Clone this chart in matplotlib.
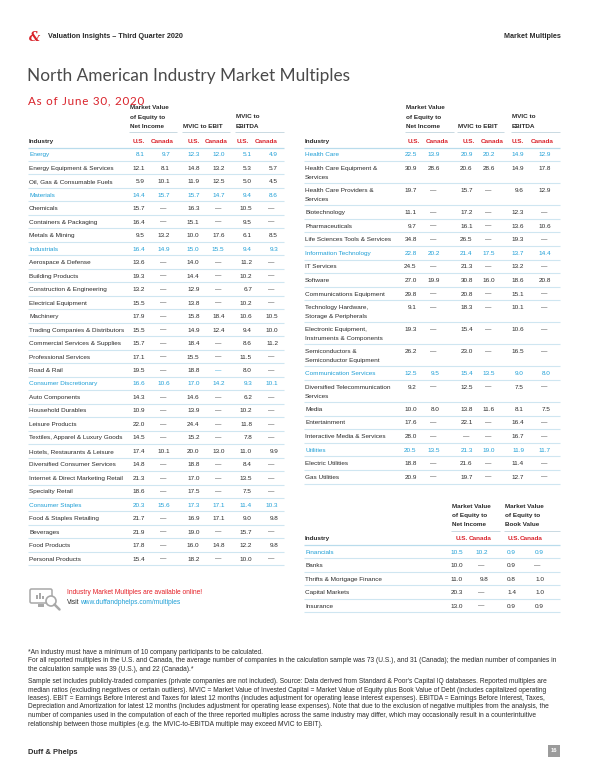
import matplotlib
matplotlib.use("Agg")
import matplotlib.pyplot as plt
from matplotlib.patches import Circle, FancyBboxPatch, Rectangle

plt.rcParams["font.family"] = ["Liberation Sans", "DejaVu Sans"]

BLUE = "#1f9fd6"
RED = "#d9232b"
DARK = "#2b2b2b"
RULE = "#cfe6f1"
FS = 4.55

# ---- left table: Energy .. Consumer Staples ----
left_industries = [
    "Energy", "Energy Equipment & Services", "Oil, Gas & Consumable Fuels",
    "Materials", "Chemicals", "Containers & Packaging", "Metals & Mining",
    "Industrials", "Aerospace & Defense", "Building Products",
    "Construction & Engineering", "Electrical Equipment", "Machinery",
    "Trading Companies & Distributors", "Commercial Services & Supplies",
    "Professional Services", "Road & Rail", "Consumer Discretionary",
    "Auto Components", "Household Durables", "Leisure Products",
    "Textiles, Apparel & Luxury Goods", "Hotels, Restaurants & Leisure",
    "Diversified Consumer Services", "Internet & Direct Marketing Retail",
    "Specialty Retail", "Consumer Staples", "Food & Staples Retailing",
    "Beverages", "Food Products", "Personal Products",
]
left_pe_us = [8.1, 12.1, 5.9, 14.4, 15.7, 16.4, 9.5, 16.4, 13.6, 19.3, 13.2, 15.5, 17.9, 15.5, 15.7, 17.1,
              19.5, 16.6, 14.3, 10.9, 22.0, 14.5, 17.4, 14.8, 21.3, 18.6, 20.3, 21.7, 21.9, 17.8, 15.4]
left_pe_ca = [9.7, 8.1, 10.1, 15.7, None, None, 13.2, 14.9, None, None, None, None, None, None, None, None,
              None, 10.6, None, None, None, None, 10.1, None, None, None, 15.6, None, None, None, None]
left_ebit_us = [12.3, 14.8, 11.9, 15.7, 16.3, 15.1, 10.0, 15.0, 14.0, 14.4, 12.9, 13.8, 15.8, 14.9, 18.4, 15.5,
                18.8, 17.0, 14.6, 13.9, 24.4, 15.2, 20.0, 18.8, 17.0, 17.5, 17.3, 16.9, 19.0, 16.0, 18.2]
left_ebit_ca = [12.0, 13.2, 12.5, 14.7, None, None, 17.6, 15.5, None, None, None, None, 18.4, 12.4, None, None,
                None, 14.2, None, None, None, None, 13.0, None, None, None, 17.1, 17.1, None, 14.8, None]
left_ebitda_us = [5.1, 5.3, 5.0, 9.4, 10.5, 9.5, 6.1, 9.4, 11.2, 10.2, 6.7, 10.2, 10.6, 9.4, 8.6, 11.5,
                  8.0, 9.3, 6.2, 10.2, 11.8, 7.8, 11.0, 8.4, 13.5, 7.5, 11.4, 9.0, 15.7, 12.2, 10.0]
left_ebitda_ca = [4.9, 5.7, 4.5, 8.6, None, None, 8.5, 9.3, None, None, None, None, 10.5, 10.0, 11.2, None,
                  None, 10.1, None, None, None, None, 9.9, None, None, None, 10.3, 9.8, None, 9.8, None]

# ---- right table: Health Care .. Utilities ----
right_industries = [
    "Health Care", "Health Care Equipment &\nServices", "Health Care Providers &\nServices",
    "Biotechnology", "Pharmaceuticals", "Life Sciences Tools & Services",
    "Information Technology", "IT Services", "Software", "Communications Equipment",
    "Technology Hardware,\nStorage & Peripherals", "Electronic Equipment,\nInstruments & Components",
    "Semiconductors &\nSemiconductor Equipment", "Communication Services",
    "Diversified Telecommunication\nServices", "Media", "Entertainment",
    "Interactive Media & Services", "Utilities", "Electric Utilities", "Gas Utilities",
]
right_pe_us = [22.5, 30.9, 19.7, 11.1, 9.7, 34.8, 22.8, 24.5, 27.0, 29.8, 9.1, 19.3, 26.2, 12.5, 9.2,
               10.0, 17.6, 28.0, 20.5, 18.8, 20.9]
right_pe_ca = [13.9, 28.6, None, None, None, None, 20.2, None, 19.9, None, None, None, None, 9.5, None,
               8.0, None, None, 13.5, None, None]
right_ebit_us = [20.9, 20.6, 15.7, 17.2, 16.1, 26.5, 21.4, 21.3, 30.8, 20.8, 18.3, 15.4, 23.0, 15.4, 12.5,
                 13.8, 22.1, None, 21.3, 21.6, 19.7]
right_ebit_ca = [20.2, 28.6, None, None, None, None, 17.5, None, 16.0, None, None, None, None, 13.5, None,
                 11.6, None, None, 19.0, None, None]
right_ebitda_us = [14.9, 14.9, 9.6, 12.3, 13.6, 19.3, 13.7, 13.2, 18.6, 15.1, 10.1, 10.6, 16.5, 9.0, 7.5,
                   8.1, 16.4, 16.7, 11.9, 11.4, 12.7]
right_ebitda_ca = [12.9, 17.8, 12.9, None, 10.6, None, 14.4, None, 20.8, None, None, None, None, 8.0, None,
                   7.5, None, None, 11.7, None, None]

# ---- financials ----
fin_industries = ["Financials", "Banks", "Thrifts & Mortgage Finance", "Capital Markets", "Insurance"]
fin_pe_us = [10.5, 10.0, 11.0, 20.3, 13.0]
fin_pe_ca = [10.2, None, 9.8, None, None]
fin_pb_us = [0.9, 0.9, 0.8, 1.4, 0.9]
fin_pb_ca = [0.9, None, 1.0, 1.0, 0.9]

sectors = {"Energy", "Materials", "Industrials", "Consumer Discretionary", "Consumer Staples",
           "Health Care", "Information Technology", "Communication Services", "Utilities", "Financials"}

footnotes = [
    "*An industry must have a minimum of 10 company participants to be calculated.",
    "For all reported multiples in the U.S. and Canada, the average number of companies in the calculation sample was 73 (U.S.), and 31 (Canada); the median number of companies in",
    "the calculation sample was 39 (U.S.), and 22 (Canada).*",
]
notes = [
    "Sample set includes publicly-traded companies (private companies are not included). Source: Data derived from Standard & Poor's Capital IQ databases. Reported multiples are",
    "median ratios (excluding negatives or certain outliers). MVIC = Market Value of Invested Capital = Market Value of Equity plus Book Value of Debt (includes capitalized operating",
    "leases). EBIT = Earnings Before Interest and Taxes for latest 12 months (includes adjustment for operating lease interest expenses). EBITDA = Earnings Before Interest, Taxes,",
    "Depreciation and Amortization for latest 12 months (includes adjustment for operating lease expenses). Note that due to the exclusion of negative multiples from the analysis, the",
    "number of companies used in the computation of each of the three reported multiples across the same industry may differ, which may occasionally result in a counterintuitive",
    "relationship between those multiples (e.g. the MVIC-to-EBITDA multiple may exceed MVIC to EBIT).",
]


def txt(ax, x, y, s, **kw):
    kw.setdefault("fontsize", FS)
    kw.setdefault("color", DARK)
    kw.setdefault("va", "center_baseline")
    ax.text(x, y, s, **kw)


def draw_header(ax, groups, units_x, y_ul, y_ind, x_ind):
    # groups: (x, lines, x_end); lines stacked upward from the underline
    for gx, lines, gend in groups:
        for k, ln in enumerate(reversed(lines)):
            txt(ax, gx, y_ul - 6.6 - k * 9.2, ln, fontweight="bold")
        ax.hlines(y_ul, gx - 1, gend, color="#c9d9e2", lw=0.7)
    txt(ax, x_ind, y_ind, "Industry", fontweight="bold")
    for ux_us, ux_ca in units_x:
        txt(ax, ux_us, y_ind, "U.S.", color=RED, fontweight="bold")
        txt(ax, ux_ca, y_ind, "Canada", color=RED, fontweight="bold")


def draw_rows(ax, names, cols, num_right, x_name, x_end, y_top, h1, h2):
    y = y_top
    ax.hlines(y, x_name - 1, x_end, color="#b9dcec", lw=0.9)
    for i, name in enumerate(names):
        lines = name.split("\n")
        color = BLUE if name in sectors else DARK
        for k, ln in enumerate(lines):
            txt(ax, x_name, y + 6.8 + k * 9, ln, color=color)
        for j, col in enumerate(cols):
            v = col[i]
            if v is None:
                c = BLUE if name == "Road & Rail" and j == 3 else color
                txt(ax, num_right[j] - 6.5, y + 6.8, "\u2014", ha="center", color=c)
            else:
                txt(ax, num_right[j], y + 6.8, f"{v:.1f}", ha="right", color=color)
        y += h1 if len(lines) == 1 else h2
        ax.hlines(y, x_name - 1, x_end, color=RULE, lw=0.8)


fig = plt.figure(figsize=(6.0, 7.76), dpi=100)
ax = fig.add_axes([0, 0, 1, 1])
ax.set_xlim(0, 600)
ax.set_ylim(776, 0)
ax.axis("off")

# page header
txt(ax, 29, 36, "&", fontsize=9, color=RED, fontstyle="italic", fontweight="bold",
    family=["DejaVu Serif"])
txt(ax, 48, 35, "Valuation Insights \u2013 Third Quarter 2020", fontsize=5.2, fontweight="bold")
txt(ax, 561, 35, "Market Multiples", fontsize=5.2, fontweight="bold", ha="right")
txt(ax, 27, 74, "North American Industry Market Multiples", fontsize=12.4, color="#4a4a4a",
    family=["Lato", "Liberation Sans"])
subtitle = "As of June 30, 2020"
txt(ax, 28, 100, "\u200a".join(subtitle), fontsize=8.4, color=RED,
    family=["Lato", "Liberation Sans", "DejaVu Sans"])

# left table
mv_lines = ["Market Value", "of Equity to", "Net Income"]
draw_header(ax, [(130, mv_lines, 177), (183, ["MVIC to EBIT"], 230), (236, ["MVIC to", "EBITDA"], 284)],
            [(132.7, 151), (187.7, 205), (236.7, 255)], 132.3, 141, 29)
draw_rows(ax, left_industries,
          [left_pe_us, left_pe_ca, left_ebit_us, left_ebit_ca, left_ebitda_us, left_ebitda_ca],
          [145, 170, 199.5, 224.5, 252, 278], 29, 284, 147.5, 13.48, 22)

# right table
draw_header(ax, [(406, mv_lines, 454), (458, ["MVIC to EBIT"], 504), (512, ["MVIC to", "EBITDA"], 560)],
            [(407.3, 426), (463, 481), (512, 530.7)], 132.3, 141, 305)
draw_rows(ax, right_industries,
          [right_pe_us, right_pe_ca, right_ebit_us, right_ebit_ca, right_ebitda_us, right_ebitda_ca],
          [416.7, 440, 472.7, 495, 524, 550.7], 305, 560, 147.5, 13.6, 22)

# financials table
draw_header(ax, [(452, mv_lines, 500), (505, ["Market Value", "of Equity to", "Book Value"], 560)],
            [(456, 468.5), (507.3, 520)], 531, 538, 305)
draw_rows(ax, fin_industries, [fin_pe_us, fin_pe_ca, fin_pb_us, fin_pb_ca],
          [463, 488, 516, 544], 305, 560, 545, 13.45, 22)

# online box with icon
ax.add_patch(FancyBboxPatch((30, 589), 22, 14, boxstyle="round,pad=0,rounding_size=1.5",
                            fill=False, ec="#a8a8a8", lw=1.1))
for bx, bh in zip([36, 39, 42], [4, 6, 3]):
    ax.add_patch(Rectangle((bx, 599 - bh), 1.6, bh, color="#a8a8a8", lw=0))
ax.add_patch(Rectangle((38, 604), 6, 2.5, color="#a8a8a8", lw=0))
ax.add_patch(Circle((51, 601), 5, fill=True, fc="white", ec="#a8a8a8", lw=1.2))
ax.plot([54.5, 59.5], [604.5, 609.5], color="#a8a8a8", lw=1.8, solid_capstyle="round")
txt(ax, 67, 591, "Industry Market Multiples are available online!", color="#e41f26", fontsize=4.75)
txt(ax, 67, 601, "Visit", fontsize=4.75)
txt(ax, 80, 601, "www.duffandphelps.com/multiples", color=BLUE, fontsize=4.75)

# footnotes
for k, ln in enumerate(footnotes):
    txt(ax, 28, 651 + k * 8.6, ln, fontsize=4.8)
for k, ln in enumerate(notes):
    txt(ax, 28, 680.5 + k * 8.5, ln, fontsize=4.8)

# page footer
txt(ax, 28, 751, "Duff & Phelps", fontsize=5.4, fontweight="bold")
ax.add_patch(Rectangle((548, 745), 12, 12, color="#9b9b9b", lw=0))
txt(ax, 554, 751, "16", ha="center", color="white", fontsize=4.2, fontweight="bold", va="center")

fig.savefig("out.png", dpi=100)
